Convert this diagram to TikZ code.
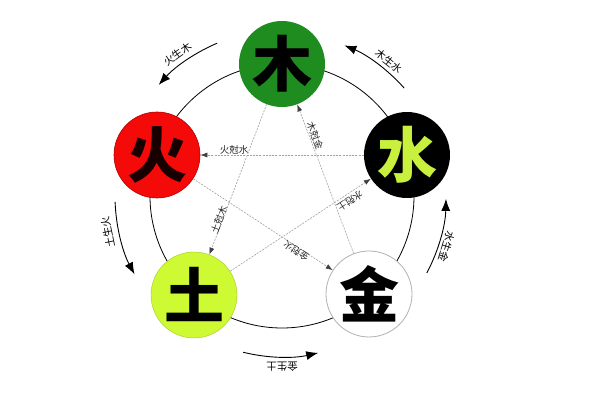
\documentclass[tikz,border=0pt]{standalone}
\usepackage{fontspec}
\newfontfamily\cjk{Noto Sans CJK SC}
\usetikzlibrary{arrows.meta,calc}
\definecolor{mugreen}{RGB}{30,140,30}
\definecolor{huored}{RGB}{245,10,10}
\definecolor{tuyellow}{RGB}{205,250,50}
\definecolor{shuitext}{RGB}{200,240,60}
\begin{document}
\begin{tikzpicture}[x=1pt,y=1pt,
  elem/.style={circle, minimum size=86pt, inner sep=0pt,
    font=\cjk\bfseries\fontsize{60}{60}\selectfont},
  cyclearrow/.style={line width=0.9pt, -{Latex[length=12pt,width=9pt]}},
  staredge/.style={gray!75, line width=0.6pt, dash pattern=on 2pt off 1.2pt,
    -{Latex[length=7pt,width=5pt,color=black!75]}, shorten >=0pt},
  outlabel/.style={font=\cjk\fontsize{10.5}{10.5}\selectfont, inner sep=0pt},
  inlabel/.style={font=\cjk\fontsize{9.5}{9.5}\selectfont, inner sep=0pt, text=black!85}]
\useasboundingbox (0,0) rectangle (590,415);
\fill[white] (0,0) rectangle (590,415);
\coordinate (O) at (282,219);
% big circle
\draw[line width=0.8pt] (O) circle[radius=132];
% element nodes
\node[elem, fill=mugreen, text=black] (mu) at (282,351) {木};
\node[elem, fill=huored, draw=red!70!black, line width=0.6pt, text=black!90!red] (huo) at (157,260) {火};
\node[elem, fill=black, text=shuitext] (shui) at (407,260) {水};
\node[elem, fill=tuyellow, draw=tuyellow!80!black, line width=0.4pt, text=black] (tu) at (194,120) {土};
\node[elem, fill=white, draw=gray!60, line width=0.8pt, text=black] (jin) at (369,121) {金};
% star (ke) lines
\draw[staredge] (shui) -- (huo);
\draw[staredge] (jin) -- (mu);
\draw[staredge] (mu) -- (tu);
\draw[staredge] (tu) -- (shui);
\draw[staredge] (huo) -- (jin);
\node[inlabel] (k1) at (234,265) {火尅水};
\node[inlabel, rotate=-69.3] (k2) at (315,279) {木尅金};
\node[inlabel, rotate=69.1] (k3) at (219,195) {土尅木};
\node[inlabel, rotate=213.3] (k4) at (350,214) {水尅土};
\node[inlabel, rotate=146.8] (k5) at (296,164) {金尅火};
% outer cycle arrows
\draw[cyclearrow] (O) ++(113:166) arc[start angle=113, end angle=138, radius=166];
\draw[cyclearrow] (O) ++(41.5:163) arc[start angle=41.5, end angle=67.5, radius=163];
\draw[cyclearrow] (O) ++(182:167) arc[start angle=182, end angle=208, radius=167];
\draw[cyclearrow] (O) ++(-28:164) arc[start angle=-28, end angle=-1, radius=164];
\draw[cyclearrow] (O) ++(256:161) arc[start angle=256, end angle=283, radius=161];
\node[outlabel, rotate=36] (s1) at ($(O)+(126.4:176)$) {火生木};
\node[outlabel, rotate=-38.6] (s2) at ($(O)+(51.4:172)$) {木生水};
\node[outlabel, rotate=101.7] (s3) at ($(O)+(191.7:178)$) {土生火};
\node[outlabel, rotate=-107] (s4) at ($(O)+(-17:172)$) {水生金};
\node[outlabel, rotate=180] (s5) at ($(O)+(270:171)$) {金生土};
\end{tikzpicture}
\end{document}
